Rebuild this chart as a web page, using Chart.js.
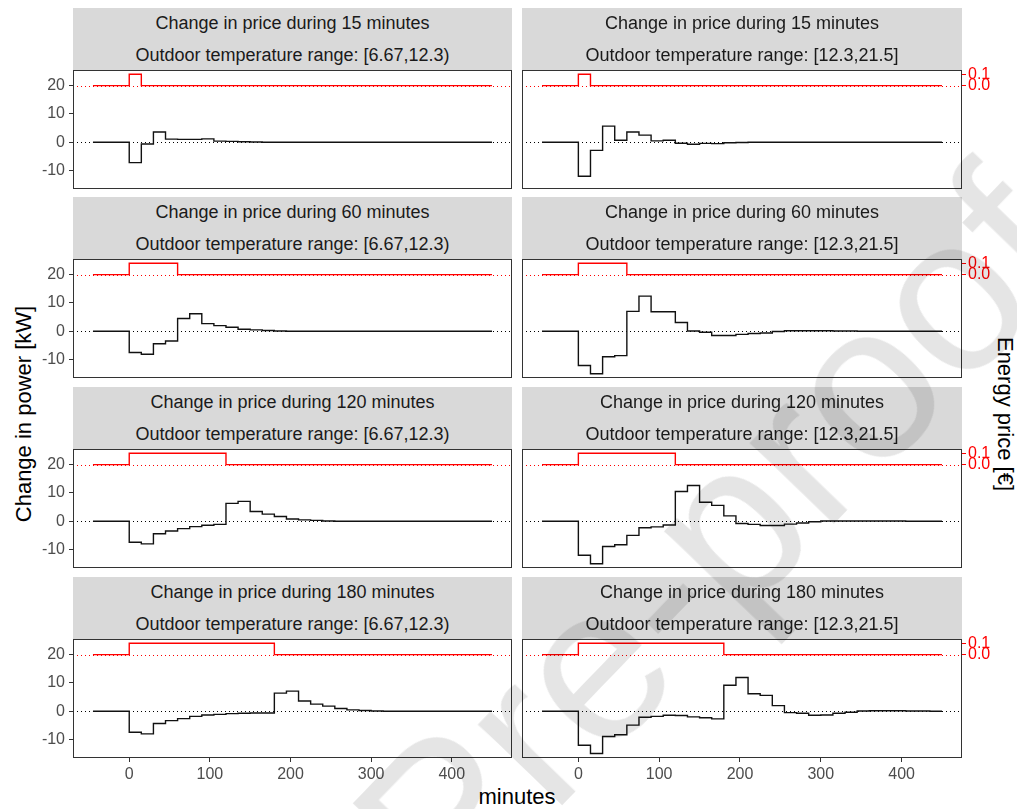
<!DOCTYPE html>
<html>
<head>
<meta charset="utf-8">
<script src="https://cdn.jsdelivr.net/npm/chart.js@4.4.0/dist/chart.umd.min.js"></script>
<style>
  body { margin: 0; width: 1017px; height: 809px; position: relative; overflow: hidden; background: #fff;
         font-family: "Liberation Sans", Arial, sans-serif; }
  .strip { position: absolute; background: #d9d9d9; color: #1a1a1a; font-size: 18px; text-align: center; height: 62px; }
  .strip div { position: absolute; left: 0; right: 0; line-height: 22px; white-space: nowrap; }
  .box { position: absolute; }
  .ttl { position: absolute; font-size: 22px; color: #000; white-space: nowrap; }
  #wm { position: absolute; left: 752px; top: 500px; font-size: 220px; color: rgba(0,0,0,0.1);
        white-space: nowrap; pointer-events: none; transform: translate(-50%, -50%) rotate(-46deg); }
</style>
</head>
<body>
<div class="ttl" style="left:24px;top:414px;transform:translate(-50%,-50%) rotate(-90deg)">Change in power [kW]</div>
<div class="ttl" style="left:1005px;top:414px;transform:translate(-50%,-50%) rotate(90deg)">Energy price [€]</div>
<div class="ttl" style="left:517px;top:797px;transform:translate(-50%,-50%)">minutes</div>

<script>
/* ── data ── */
const minutes = [-45, -30, -15, 0, 15, 30, 45, 60, 75, 90, 105, 120, 135, 150, 165, 180, 195, 210,
  225, 240, 255, 270, 285, 300, 315, 330, 345, 360, 375, 390, 405, 420, 435, 450];

const durations = ['15', '60', '120', '180'];
const tempRanges = ['[6.67,12.3)', '[12.3,21.5]'];

const price15  = [0, 0, 0, 0.1, 0, 0, 0, 0, 0, 0, 0, 0, 0, 0, 0, 0, 0, 0, 0, 0, 0, 0, 0, 0, 0, 0, 0, 0, 0, 0, 0, 0, 0, 0];
const price60  = [0, 0, 0, 0.1, 0.1, 0.1, 0.1, 0, 0, 0, 0, 0, 0, 0, 0, 0, 0, 0, 0, 0, 0, 0, 0, 0, 0, 0, 0, 0, 0, 0, 0, 0, 0, 0];
const price120 = [0, 0, 0, 0.1, 0.1, 0.1, 0.1, 0.1, 0.1, 0.1, 0.1, 0, 0, 0, 0, 0, 0, 0, 0, 0, 0, 0, 0, 0, 0, 0, 0, 0, 0, 0, 0, 0, 0, 0];
const price180 = [0, 0, 0, 0.1, 0.1, 0.1, 0.1, 0.1, 0.1, 0.1, 0.1, 0.1, 0.1, 0.1, 0.1, 0, 0, 0, 0, 0, 0, 0, 0, 0, 0, 0, 0, 0, 0, 0, 0, 0, 0, 0];

const power15Low   = [0, 0, 0, -7.2, -0.6, 3.6, 1.1, 1.0, 1.0, 1.2, 0.4, 0.3, 0.2, 0.1, 0, 0, 0, 0, 0, 0, 0, 0, 0, 0, 0, 0, 0, 0, 0, 0, 0, 0, 0, 0];
const power15High  = [0, 0, 0, -12.0, -2.85, 5.7, 0.7, 3.6, 2.5, 0.5, 0.7, -0.35, -0.7, -0.4, -0.5, -0.2, -0.1, 0, 0, 0, 0, 0, 0, 0, 0, 0, 0, 0, 0, 0, 0, 0, 0, 0];
const power60Low   = [0, 0, 0, -7.5, -8.1, -4.4, -3.45, 4.5, 6.2, 2.7, 2.0, 1.4, 0.7, 0.5, 0.25, 0.1, 0, 0, 0, 0, 0, 0, 0, 0, 0, 0, 0, 0, 0, 0, 0, 0, 0, 0];
const power60High  = [0, 0, 0, -12.1, -15.0, -9.0, -8.6, 7.0, 12.4, 6.9, 6.9, 3.1, 0.1, -0.35, -1.5, -1.5, -1.1, -0.8, -0.6, -0.1, 0.2, 0.2, 0.2, 0.2, 0.1, 0.1, 0, 0, 0, 0, 0, 0, 0, 0];
const power120Low  = [0, 0, 0, -7.4, -8.0, -4.4, -3.45, -2.6, -1.9, -1.4, -1.1, 6.3, 7.0, 3.45, 2.5, 1.7, 0.8, 0.5, 0.3, 0.1, 0, 0, 0, 0, 0, 0, 0, 0, 0, 0, 0, 0, 0, 0];
const power120High = [0, 0, 0, -12.0, -15.0, -8.9, -8.3, -5.0, -2.3, -2.0, -1.3, 10.5, 12.6, 6.7, 5.6, 1.9, -0.8, -1.1, -1.5, -1.5, -1.0, -0.6, -0.2, 0.1, 0.1, 0.1, 0.1, 0.1, 0.1, 0.1, 0, 0, 0, 0];
const power180Low  = [0, 0, 0, -7.4, -8.0, -4.3, -3.3, -2.6, -1.8, -1.3, -1.1, -0.85, -0.7, -0.6, -0.6, 6.4, 7.1, 3.6, 2.5, 1.8, 0.95, 0.5, 0.25, 0.1, 0, 0, 0, 0, 0, 0, 0, 0, 0, 0];
const power180High = [0, 0, 0, -12.0, -14.9, -8.9, -8.3, -4.9, -2.1, -1.8, -1.4, -1.5, -2.0, -2.3, -2.7, 9.2, 11.9, 6.2, 5.6, 2.0, -0.5, -0.7, -1.4, -1.3, -0.7, -0.35, 0.1, 0.2, 0.2, 0.2, 0.1, 0.1, 0, 0];

const xTicks = [0, 100, 200, 300, 400];
const powerTicks = [-10, 0, 10, 20];
const priceTicks = [0, 0.1];

/* ── layout ── */
const X_MIN = -69.75, X_MAX = 474.75;
const Y_MIN = -16.5, Y_MAX = 25.5;
// price axis is tied to the power axis: 0 € -> 20 kW, 0.1 € -> 24 kW
const Y2_MIN = (Y_MIN - 20) / 40, Y2_MAX = (Y_MAX - 20) / 40;

const stripTops = [8, 197, 387, 577];
const colLeft = [73, 522];
const colWidth = [439, 440];
const PANEL_H = 119;
const FONT = '"Liberation Sans", Arial, sans-serif';

Chart.defaults.font.family = FONT;

const panels = [
  [power15Low, power15High, price15],
  [power60Low, power60High, price60],
  [power120Low, power120High, price120],
  [power180Low, power180High, price180]
];

const panelDecor = {
  id: 'panelDecor',
  beforeDatasetsDraw(chart) {
    const { ctx, chartArea: a, scales } = chart;
    ctx.save();
    ctx.lineWidth = 1.1;
    ctx.setLineDash([1, 3]);
    const y0 = Math.round(scales.y.getPixelForValue(0)) + 0.5;
    ctx.strokeStyle = '#000';
    ctx.beginPath(); ctx.moveTo(a.left, y0); ctx.lineTo(a.right, y0); ctx.stroke();
    const p0 = Math.round(scales.y2.getPixelForValue(0)) + 0.5;
    ctx.strokeStyle = '#ff0000';
    ctx.beginPath(); ctx.moveTo(a.left, p0); ctx.lineTo(a.right, p0); ctx.stroke();
    ctx.restore();
  },
  afterDraw(chart) {
    const { ctx, chartArea: a } = chart;
    ctx.save();
    ctx.strokeStyle = '#333';
    ctx.lineWidth = 1;
    ctx.strokeRect(a.left + 0.5, a.top + 0.5, a.right - a.left - 1, a.bottom - a.top - 1);
    ctx.restore();
  }
};

function fixTicks(list) {
  return s => { s.ticks = list.map(v => ({ value: v })); };
}

// fixed axis size (zero when hidden), and no label overhang padding
function fixSize(key, size) {
  return s => {
    s[key] = s.options.display ? size : 0;
    s.paddingTop = s.paddingBottom = s.paddingLeft = s.paddingRight = 0;
  };
}

function makePanel(row, col) {
  const [low, high, price] = panels[row];
  const power = col === 0 ? low : high;
  const isBottom = row === 3;

  // strip
  const strip = document.createElement('div');
  strip.className = 'strip';
  strip.style.left = colLeft[col] + 'px';
  strip.style.width = colWidth[col] + 'px';
  strip.style.top = stripTops[row] + 'px';
  strip.innerHTML = '<div style="top:4px">Change in price during ' + durations[row] + ' minutes</div>' +
    '<div style="top:36px">Outdoor temperature range: ' + tempRanges[col] + '</div>';
  document.body.appendChild(strip);

  // chart canvas
  const panelTop = stripTops[row] + 62;
  const padTop = 6;
  const xAxisH = isBottom ? 40 : 0;
  const padBottom = isBottom ? 0 : 6;
  const cw = col === 0 ? 520 : 500;
  const cx = col === 0 ? 0 : 517;
  const ch = padTop + PANEL_H + xAxisH + padBottom;

  const box = document.createElement('div');
  box.className = 'box';
  box.style.left = cx + 'px';
  box.style.top = (panelTop - padTop) + 'px';
  const cv = document.createElement('canvas');
  cv.width = cw; cv.height = ch;
  cv.style.width = cw + 'px'; cv.style.height = ch + 'px';
  box.appendChild(cv);
  document.body.appendChild(box);

  const padLeft = col === 0 ? 0 : colLeft[1] - cx;
  const padRight = col === 0 ? cw - (colLeft[0] + colWidth[0]) : cw - (colLeft[1] + colWidth[1] - cx) - 45;

  new Chart(cv, {
    type: 'line',
    data: {
      datasets: [
        {
          data: minutes.map((m, i) => ({ x: m, y: power[i] })),
          yAxisID: 'y',
          borderColor: '#111',
          borderWidth: 1.4,
          stepped: 'before',
          pointRadius: 0,
          fill: false
        },
        {
          data: minutes.map((m, i) => ({ x: m, y: price[i] })),
          yAxisID: 'y2',
          borderColor: '#ff0000',
          borderWidth: 1.4,
          stepped: 'before',
          pointRadius: 0,
          fill: false
        }
      ]
    },
    options: {
      responsive: false,
      animation: false,
      devicePixelRatio: 1,
      layout: { autoPadding: false, padding: { left: padLeft, right: padRight, top: padTop, bottom: padBottom } },
      plugins: { legend: { display: false }, tooltip: { enabled: false } },
      scales: {
        x: {
          type: 'linear', min: X_MIN, max: X_MAX, display: isBottom,
          afterBuildTicks: fixTicks(xTicks),
          afterFit: fixSize('height', xAxisH),
          grid: { drawOnChartArea: false, drawTicks: true, tickLength: 4, color: '#333' },
          border: { display: false },
          ticks: { color: '#4d4d4d', font: { size: 16 }, padding: 3, maxRotation: 0, autoSkip: false }
        },
        y: {
          type: 'linear', position: 'left', min: Y_MIN, max: Y_MAX, display: col === 0,
          afterBuildTicks: fixTicks(powerTicks),
          afterFit: fixSize('width', 73),
          grid: { drawOnChartArea: false, drawTicks: true, tickLength: 4, color: '#333' },
          border: { display: false },
          ticks: { color: '#4d4d4d', font: { size: 16 }, padding: 4, autoSkip: false }
        },
        y2: {
          type: 'linear', position: 'right', min: Y2_MIN, max: Y2_MAX, display: col === 1,
          afterBuildTicks: fixTicks(priceTicks),
          afterFit: fixSize('width', 45),
          grid: { drawOnChartArea: false, drawTicks: true, tickLength: 4, color: '#ff0000' },
          border: { display: false },
          ticks: { color: '#ff0000', font: { size: 16 }, padding: 2, autoSkip: false,
                   callback: v => v.toFixed(1) }
        }
      }
    },
    plugins: [panelDecor]
  });
}

for (let r = 0; r < 4; r++) {
  for (let c = 0; c < 2; c++) makePanel(r, c);
}

const wm = document.createElement('div');
wm.id = 'wm';
wm.textContent = 'Pre-proofs';
document.body.appendChild(wm);
</script>
</body>
</html>
